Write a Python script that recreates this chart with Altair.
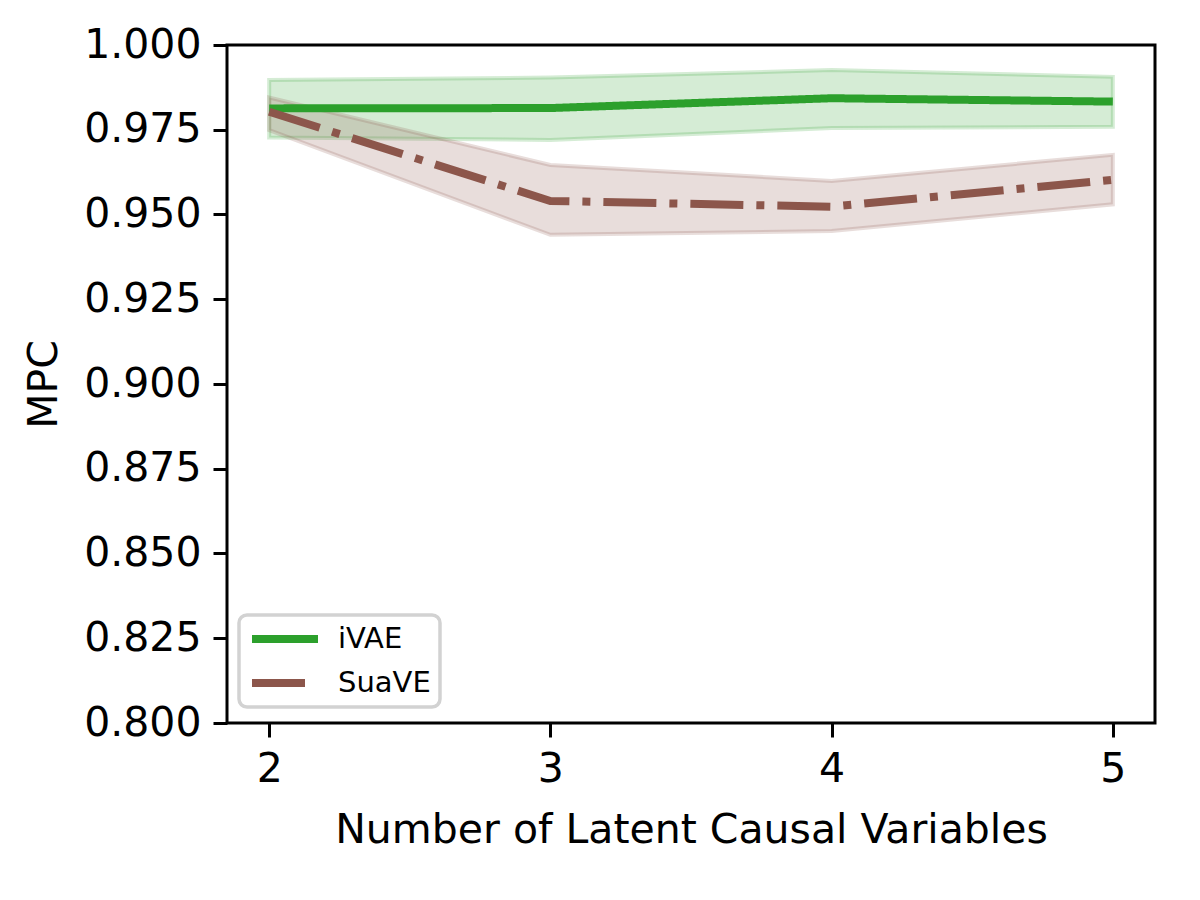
import altair as alt
import pandas as pd

x_vals = [2, 3, 4, 5]
methods = ["iVAE", "SuaVE"]
ivae_mean = [0.9813, 0.9814, 0.9843, 0.9833]
ivae_hi = [0.9897, 0.9904, 0.9926, 0.9906]
ivae_lo = [0.9727, 0.9720, 0.9755, 0.9759]
suave_mean = [0.9803, 0.9540, 0.9523, 0.9602]
suave_hi = [0.9845, 0.9646, 0.9599, 0.9676]
suave_lo = [0.9749, 0.9440, 0.9451, 0.9530]
colors = ["#2ca02c", "#8c564b"]

rows = []
for i, x in enumerate(x_vals):
    rows.append({"x": x, "method": "iVAE", "mean": ivae_mean[i], "lo": ivae_lo[i], "hi": ivae_hi[i]})
for i, x in enumerate(x_vals):
    rows.append({"x": x, "method": "SuaVE", "mean": suave_mean[i], "lo": suave_lo[i], "hi": suave_hi[i]})
df = pd.DataFrame(rows)

FONT = "DejaVu Sans"
xscale = alt.Scale(domain=[1.85, 5.15], nice=False, zero=False)
yscale = alt.Scale(domain=[0.8, 1.0], nice=False, zero=False)
color_scale = alt.Scale(domain=methods, range=colors)

xaxis = alt.Axis(values=x_vals, format="d", title="Number of Latent Causal Variables",
                 labelFontSize=41, titleFontSize=41, labelFont=FONT, titleFont=FONT,
                 titleFontWeight="normal", tickSize=14, tickWidth=3, tickColor="black",
                 domain=False, grid=False, labelColor="black", titleColor="black",
                 labelPadding=12, titlePadding=21)
yaxis = alt.Axis(values=[0.8 + 0.025 * k for k in range(9)], format=".3f", title="MPC",
                 labelFontSize=41, titleFontSize=41, labelFont=FONT, titleFont=FONT,
                 titleFontWeight="normal", tickSize=14, tickWidth=3, tickColor="black",
                 domain=False, grid=False, labelColor="black", titleColor="black",
                 labelPadding=12, titlePadding=18)

base = alt.Chart(df)

bands = []
for m, c in zip(methods, colors):
    bands.append(
        base.transform_filter(alt.datum.method == m)
        .mark_area(fill=c, stroke=c, fillOpacity=0.2, strokeOpacity=0.2, strokeWidth=4)
        .encode(
            x=alt.X("x:Q", scale=xscale, axis=xaxis),
            y=alt.Y("lo:Q", scale=yscale, axis=yaxis),
            y2="hi:Q",
        )
    )

legend = alt.Legend(orient="none", legendX=12, legendY=570, title=None,
                    fillColor="rgba(255,255,255,0.8)", strokeColor="#d2d2d2",
                    cornerRadius=8, padding=9, labelFontSize=29, labelFont=FONT,
                    labelColor="black", symbolType="stroke", symbolSize=4356,
                    symbolStrokeWidth=8, rowPadding=14, labelOffset=16, clipHeight=30)

line = base.mark_line(strokeWidth=8).encode(
    x=alt.X("x:Q", scale=xscale),
    y=alt.Y("mean:Q", scale=yscale),
    color=alt.Color("method:N", scale=color_scale, legend=legend),
    strokeDash=alt.StrokeDash("method:N",
                              scale=alt.Scale(domain=methods, range=[[1, 0], [53, 13, 8, 13]]),
                              legend=legend),
)

chart = alt.layer(*bands, line).properties(
    width=928, height=678,
    padding={"left": 219, "top": 37, "right": 37, "bottom": 169},
    autosize="none", background="white",
).configure_view(stroke="black", strokeWidth=3).configure_legend(strokeWidth=3.5)

chart.save("out.html", embed_options={"renderer": "svg", "actions": False})
